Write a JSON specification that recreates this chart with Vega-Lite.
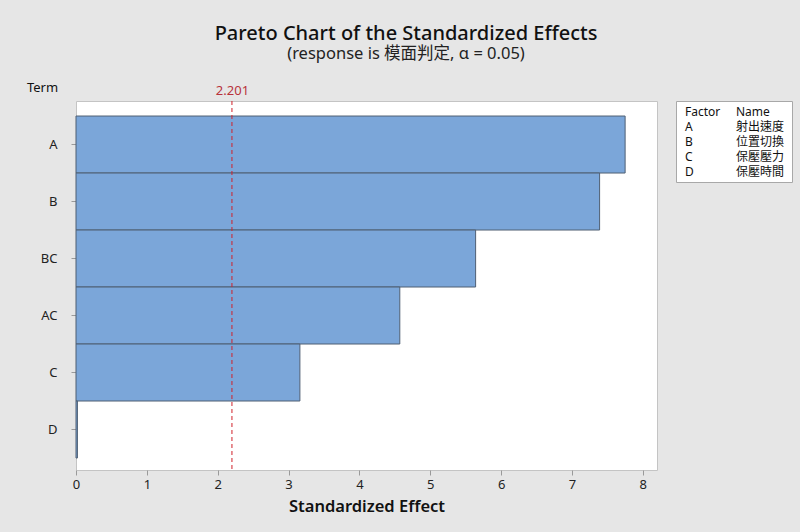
{
  "$schema": "https://vega.github.io/schema/vega-lite/v6.json",
  "autosize": "none",
  "padding": {"left": 76, "top": 101, "right": 724, "bottom": 431},
  "background": "#e6e6e6",
  "title": {
    "text": "Pareto Chart of the Standardized Effects",
    "subtitle": "(response is 模面判定, α = 0.05)",
    "anchor": "middle",
    "frame": "group",
    "dx": 330,
    "offset": 18,
    "font": "Noto Sans, Noto Sans CJK TC",
    "fontSize": 20,
    "fontWeight": 500,
    "color": "#111111",
    "subtitleFont": "Noto Sans, Noto Sans CJK TC",
    "subtitleFontSize": 16.5,
    "subtitleColor": "#222222",
    "subtitlePadding": 2
  },
  "datasets": {
    "effects": [
      {"term": "A", "effect": 7.75},
      {"term": "B", "effect": 7.39},
      {"term": "BC", "effect": 5.64},
      {"term": "AC", "effect": 4.57},
      {"term": "C", "effect": 3.16},
      {"term": "D", "effect": 0.02}
    ],
    "ref": [{"critical": 2.201}],
    "factors": [
      {"row": 0, "col": "c1", "label": "Factor"},
      {"row": 0, "col": "c2", "label": "Name"},
      {"row": 1, "col": "c1", "label": "A"},
      {"row": 1, "col": "c2", "label": "射出速度"},
      {"row": 2, "col": "c1", "label": "B"},
      {"row": 2, "col": "c2", "label": "位置切換"},
      {"row": 3, "col": "c1", "label": "C"},
      {"row": 3, "col": "c2", "label": "保壓壓力"},
      {"row": 4, "col": "c1", "label": "D"},
      {"row": 4, "col": "c2", "label": "保壓時間"}
    ]
  },
  "spacing": 19,
  "bounds": "flush",
  "hconcat": [
    {
      "width": 581,
      "height": 369,
      "view": {"fill": "white", "stroke": "#c4c4c4"},
      "layer": [
        {
          "data": {"name": "effects"},
          "mark": {"type": "bar", "fill": "#7ba6d9", "stroke": "#4f5f73", "strokeWidth": 1},
          "encoding": {
            "y": {
              "field": "term",
              "type": "nominal",
              "sort": null,
              "scale": {"paddingInner": 0, "paddingOuter": 0.237, "align": 0.556},
              "axis": {
                "title": "Term",
                "titleAngle": 0,
                "titleX": -34,
                "titleY": -14,
                "titleAlign": "center",
                "titleBaseline": "middle",
                "titleFontWeight": "normal",
                "titleFontSize": 13,
                "labelFontSize": 13,
                "labelPadding": 14,
                "tickSize": 5,
                "domain": false
              }
            },
            "x": {
              "field": "effect",
              "type": "quantitative",
              "scale": {"domain": [0, 8.2], "nice": false},
              "axis": {
                "title": "Standardized Effect",
                "values": [0, 1, 2, 3, 4, 5, 6, 7, 8],
                "grid": false,
                "tickSize": 5,
                "labelFontSize": 13,
                "labelPadding": 3,
                "labelFlush": false,
                "titleFontSize": 16.5,
                "titleFontWeight": 600,
                "titlePadding": 7,
                "domain": false
              }
            }
          }
        },
        {
          "data": {"name": "ref"},
          "mark": {"type": "rule", "color": "#d0202a", "strokeDash": [4, 3], "strokeWidth": 1},
          "encoding": {
            "x": {
              "field": "critical",
              "type": "quantitative",
              "scale": {"domain": [0, 8.2], "nice": false},
              "axis": {
                "orient": "top",
                "values": [2.201],
                "format": ".3f",
                "title": null,
                "domain": false,
                "ticks": false,
                "grid": false,
                "labelFlush": false,
                "labelColor": "#b8323a",
                "labelFontSize": 13,
                "labelPadding": 4
              }
            }
          }
        }
      ],
      "resolve": {"scale": {"x": "independent"}, "axis": {"x": "independent"}}
    },
    {
      "width": 116,
      "height": 81,
      "view": {"fill": "white", "stroke": "#a8a8a8"},
      "data": {"name": "factors"},
      "mark": {"type": "text", "align": "left", "baseline": "middle", "fontSize": 12, "color": "#111111"},
      "encoding": {
        "x": {"field": "col", "type": "ordinal", "scale": {"type": "point", "padding": 0, "range": [9, 60]}, "axis": null},
        "y": {"field": "row", "type": "ordinal", "scale": {"type": "point", "padding": 0.7}, "axis": null},
        "text": {"field": "label"}
      }
    }
  ],
  "config": {
    "font": "Noto Sans, Noto Sans CJK TC",
    "axis": {
      "labelFont": "Noto Sans",
      "titleFont": "Noto Sans",
      "labelColor": "#222222",
      "titleColor": "#111111",
      "tickColor": "#9a9a9a",
      "domainColor": "#c4c4c4"
    },
    "text": {"font": "Noto Sans, Noto Sans CJK TC"}
  }
}
